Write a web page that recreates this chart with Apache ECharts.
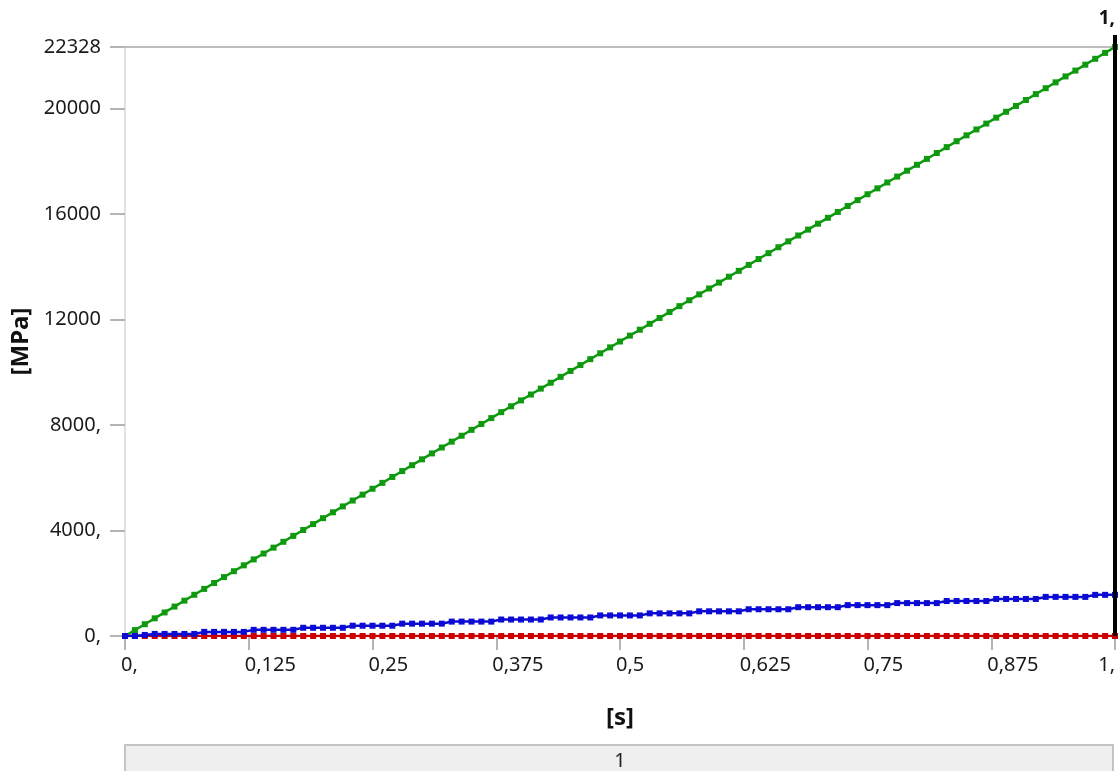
<!DOCTYPE html>
<html>
<head>
<meta charset="utf-8">
<script src="https://cdn.jsdelivr.net/npm/echarts@6/dist/echarts.min.js"></script>
<style>
  html, body { margin: 0; padding: 0; background: #ffffff; }
  #chart { width: 1118px; height: 771px; }
</style>
</head>
<body>
<div id="chart"></div>
<script>
// Time steps [s]
const time = [
  0.00, 0.01, 0.02, 0.03, 0.04, 0.05, 0.06, 0.07, 0.08, 0.09,
  0.10, 0.11, 0.12, 0.13, 0.14, 0.15, 0.16, 0.17, 0.18, 0.19,
  0.20, 0.21, 0.22, 0.23, 0.24, 0.25, 0.26, 0.27, 0.28, 0.29,
  0.30, 0.31, 0.32, 0.33, 0.34, 0.35, 0.36, 0.37, 0.38, 0.39,
  0.40, 0.41, 0.42, 0.43, 0.44, 0.45, 0.46, 0.47, 0.48, 0.49,
  0.50, 0.51, 0.52, 0.53, 0.54, 0.55, 0.56, 0.57, 0.58, 0.59,
  0.60, 0.61, 0.62, 0.63, 0.64, 0.65, 0.66, 0.67, 0.68, 0.69,
  0.70, 0.71, 0.72, 0.73, 0.74, 0.75, 0.76, 0.77, 0.78, 0.79,
  0.80, 0.81, 0.82, 0.83, 0.84, 0.85, 0.86, 0.87, 0.88, 0.89,
  0.90, 0.91, 0.92, 0.93, 0.94, 0.95, 0.96, 0.97, 0.98, 0.99,
  1.00
];

// Maximum stress [MPa]
const maximum = [
  0, 223, 447, 670, 893, 1116, 1340, 1563, 1786, 2010,
  2233, 2456, 2679, 2903, 3126, 3349, 3572, 3796, 4019, 4242,
  4466, 4689, 4912, 5135, 5359, 5582, 5805, 6029, 6252, 6475,
  6698, 6922, 7145, 7368, 7592, 7815, 8038, 8261, 8485, 8708,
  8931, 9154, 9378, 9601, 9824, 10048, 10271, 10494, 10717, 10941,
  11164, 11387, 11611, 11834, 12057, 12280, 12504, 12727, 12950, 13174,
  13397, 13620, 13843, 14067, 14290, 14513, 14736, 14960, 15183, 15406,
  15630, 15853, 16076, 16299, 16523, 16746, 16969, 17193, 17416, 17639,
  17862, 18086, 18309, 18532, 18756, 18979, 19202, 19425, 19649, 19872,
  20095, 20318, 20542, 20765, 20988, 21212, 21435, 21658, 21881, 22105,
  22328
];

// Average stress [MPa]
const average = [
  0, 0, 40, 78, 78, 78, 78, 78, 156, 156,
  156, 156, 156, 234, 234, 234, 234, 234, 312, 312,
  312, 312, 312, 390, 390, 390, 390, 390, 468, 468,
  468, 468, 468, 546, 546, 546, 546, 546, 624, 624,
  624, 624, 624, 702, 702, 702, 702, 702, 780, 780,
  780, 780, 780, 858, 858, 858, 858, 858, 936, 936,
  936, 936, 936, 1014, 1014, 1014, 1014, 1014, 1092, 1092,
  1092, 1092, 1092, 1170, 1170, 1170, 1170, 1170, 1248, 1248,
  1248, 1248, 1248, 1326, 1326, 1326, 1326, 1326, 1404, 1404,
  1404, 1404, 1404, 1482, 1482, 1482, 1482, 1482, 1560, 1560,
  1560
];

// Minimum stress [MPa]
const minimum = [
  0, 0, 0, 0, 0, 0, 0, 0, 0, 0,
  0, 0, 0, 0, 0, 0, 0, 0, 0, 0,
  0, 0, 0, 0, 0, 0, 0, 0, 0, 0,
  0, 0, 0, 0, 0, 0, 0, 0, 0, 0,
  0, 0, 0, 0, 0, 0, 0, 0, 0, 0,
  0, 0, 0, 0, 0, 0, 0, 0, 0, 0,
  0, 0, 0, 0, 0, 0, 0, 0, 0, 0,
  0, 0, 0, 0, 0, 0, 0, 0, 0, 0,
  0, 0, 0, 0, 0, 0, 0, 0, 0, 0,
  0, 0, 0, 0, 0, 0, 0, 0, 0, 0,
  0
];

// Axis tick values and their printed labels
const xTickValues = [0, 0.125, 0.25, 0.375, 0.5, 0.625, 0.75, 0.875, 1];
const xTickLabels = ['0,', '0,125', '0,25', '0,375', '0,5', '0,625', '0,75', '0,875', '1,'];
const yTickValues = [0, 4000, 8000, 12000, 16000, 20000, 22328];
const yTickLabels = ['0,', '4000,', '8000,', '12000', '16000', '20000', '22328'];

// Current time cursor and step bar
const cursorTime = 1;
const cursorLabel = '1,';
const stepLabel = '1';

const FONT = '"Noto Sans", "Open Sans", sans-serif';

function lookup(values, labels, v) {
  for (let i = 0; i < values.length; i++) {
    if (Math.abs(values[i] - v) < 1e-6 * Math.max(1, Math.abs(values[i]))) return labels[i];
  }
  return '';
}

const pairs = (ys) => time.map((t, i) => [t, ys[i]]);

const chart = echarts.init(document.getElementById('chart'), null, { renderer: 'canvas' });

const lineSeries = (name, ys, color, z) => ({
  name: name,
  type: 'line',
  data: pairs(ys),
  z: z,
  symbol: 'rect',
  symbolSize: 6,
  showSymbol: true,
  animation: false,
  lineStyle: { color: color, width: 2.5 },
  itemStyle: { color: color, borderWidth: 0 },
  emphasis: { disabled: true }
});

chart.setOption({
  animation: false,
  backgroundColor: '#ffffff',
  grid: { left: 125, right: 2, top: 47, bottom: 135, containLabel: false },
  xAxis: [
    {
      type: 'value',
      min: 0,
      max: 1,
      interval: 0.125,
      name: '[s]',
      nameLocation: 'middle',
      nameGap: 70,
      nameTextStyle: { fontFamily: FONT, fontSize: 24, fontWeight: 'bold', color: '#111' },
      axisLine: { show: true, onZero: false, lineStyle: { color: '#b4b4b4', width: 2 } },
      axisTick: { show: true, inside: false, length: 14, lineStyle: { color: '#b4b4b4', width: 2 } },
      splitLine: { show: false },
      axisLabel: {
        margin: 19,
        align: 'left',
        alignMaxLabel: 'right',
        padding: [0, 0, 0, -4],
        fontFamily: FONT,
        fontSize: 20,
        color: '#1a1a1a',
        formatter: (v) => lookup(xTickValues, xTickLabels, v)
      }
    },
    {
      type: 'value',
      position: 'top',
      min: 0,
      max: 1,
      axisLine: { show: true, onZero: false, lineStyle: { color: '#bdbdbd', width: 2 } },
      axisTick: { show: false },
      axisLabel: { show: false },
      splitLine: { show: false }
    }
  ],
  yAxis: {
    type: 'value',
    min: 0,
    max: 22328,
    interval: 4000,
    name: '[MPa]',
    nameLocation: 'middle',
    nameGap: 87,
    nameTextStyle: { fontFamily: FONT, fontSize: 24, fontWeight: 'bold', color: '#111' },
    axisLine: { show: true, onZero: false, lineStyle: { color: '#e2e2e2', width: 2 } },
    axisTick: { show: true, inside: false, length: 15, lineStyle: { color: '#b4b4b4', width: 2 } },
    splitLine: { show: false },
    axisLabel: {
      margin: 24,
      fontFamily: FONT,
      fontSize: 20,
      color: '#1a1a1a',
      formatter: (v) => lookup(yTickValues, yTickLabels, v)
    }
  },
  series: [
    lineSeries('Maximum', maximum, '#0e990e', 3),
    lineSeries('Minimum', minimum, '#cc0000', 4),
    lineSeries('Average', average, '#0b0bd4', 5)
  ]
});

// Time cursor (full height with a small stub above the plot) and step bar below
const cx = chart.convertToPixel({ xAxisIndex: 0 }, cursorTime);
const yBottom = chart.convertToPixel({ yAxisIndex: 0 }, 0);
const yTop = chart.convertToPixel({ yAxisIndex: 0 }, 22328);
const x0 = chart.convertToPixel({ xAxisIndex: 0 }, 0);

chart.setOption({
  graphic: [
    {
      type: 'line',
      z: 100,
      shape: { x1: cx, y1: yBottom, x2: cx, y2: yTop - 12 },
      style: { stroke: '#000', lineWidth: 4 }
    },
    {
      type: 'text',
      z: 100,
      x: cx,
      y: yTop - 28,
      style: {
        text: cursorLabel,
        fontFamily: FONT,
        fontSize: 19,
        fontWeight: 'bold',
        fill: '#111',
        align: 'right',
        verticalAlign: 'middle'
      }
    },
    {
      type: 'rect',
      z: 50,
      shape: { x: x0, y: 745, width: cx - x0 - 2, height: 40 },
      style: { fill: '#efefef', stroke: '#c4c4c4', lineWidth: 2 }
    },
    {
      type: 'text',
      z: 51,
      x: (x0 + cx) / 2,
      y: 761,
      style: {
        text: stepLabel,
        fontFamily: FONT,
        fontSize: 20,
        fill: '#222',
        align: 'center',
        verticalAlign: 'middle'
      }
    }
  ]
});
</script>
</body>
</html>
